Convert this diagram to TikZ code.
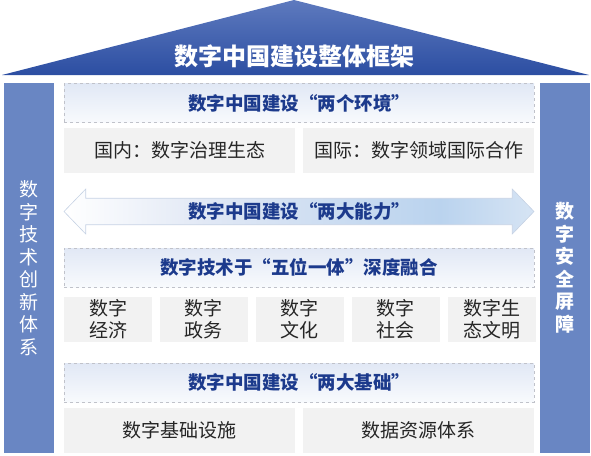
\documentclass[tikz,border=0pt]{standalone}
\usepackage{fontspec}
\setmainfont{Noto Sans CJK SC}
\usepackage{tikz}
\usetikzlibrary{positioning}
\usetikzlibrary{shapes}
\usetikzlibrary{shapes.arrows}

\definecolor{rooftop}{RGB}{94,122,190}
\definecolor{roofbot}{RGB}{44,78,162}
\definecolor{pillarblue}{RGB}{105,134,195}
\definecolor{deepblue}{RGB}{28,58,140}
\definecolor{headtop}{RGB}{225,232,245}
\definecolor{headbot}{RGB}{248,250,253}
\definecolor{dashgray}{RGB}{192,194,202}
\definecolor{cellgray}{RGB}{242,242,242}
\definecolor{arrowblue}{RGB}{186,211,238}
\definecolor{arrowtip}{RGB}{214,228,244}
\definecolor{arrowline}{RGB}{198,210,228}
\definecolor{bodytext}{RGB}{38,38,38}

\pgfdeclarehorizontalshading{arrowshade}{100bp}{color(0bp)=(white); color(25bp)=(white);
    color(40bp)=(headtop); color(65bp)=(arrowblue); color(75bp)=(arrowtip); color(100bp)=(arrowtip)}

\begin{document}
\begin{tikzpicture}[x=1pt, y=-1pt, node distance = 8pt and 8pt,                          % Node placement settings
                        header/.style = {draw=dashgray, dashed, line width=0.6pt, top color=headtop, bottom color=headbot,
                                         minimum width=470, minimum height=39, inner sep=0,
                                         font=\bfseries\fontsize{18.5}{20}\selectfont, text=deepblue}, % Defining header bands
                        cell/.style = {fill=cellgray, minimum height=45, inner sep=0, align=center,
                                       font=\fontsize{19}{22}\selectfont, text=bodytext},              % Defining gray cells
                        pillar/.style = {fill=pillarblue, minimum width=50, minimum height=370, inner sep=0,
                                         align=center, text=white, font=\fontsize{19}{22.5}\selectfont},% Defining side pillars
                        twoarrow/.style = {double arrow, double arrow head extend=6.5, double arrow tip angle=92,
                                           minimum height=470, minimum width=45, inner sep=0,
                                           shading=arrowshade, draw=arrowline, line width=0.6pt,
                                           font=\bfseries\fontsize{18.5}{20}\selectfont, text=deepblue}] % Defining double arrow
        \useasboundingbox (0,0) rectangle (591,455);
        %roof
        \shade[top color=rooftop, bottom color=roofbot] (2,75) -- (294,0) -- (589,75) -- cycle;
        \node[font=\bfseries\fontsize{24}{26}\selectfont, text=white] (title) at (294,56) {数字中国建设整体框架};
        %pillars
        \node[pillar] (tech) at (29,268) {数\\字\\技\\术\\创\\新\\体\\系};
        \node[pillar, font=\bfseries\fontsize{19}{22.5}\selectfont] (safe) at (565,268) {数\\字\\安\\全\\屏\\障};
        %two environments
        \node[header] (env) at (299,103) {数字中国建设“两个环境”};
        \node[cell, minimum width=231] (domestic) at (179.5,150) {国内：数字治理生态};
        \node[cell, minimum width=231] (abroad) [right =of domestic] {国际：数字领域国际合作};
        %two abilities
        \node[twoarrow] (ability) at (299,211.5) {数字中国建设“两大能力”};
        %five in one
        \node[header] (five) at (299,267.5) {数字技术于“五位一体”深度融合};
        \node[cell, minimum width=88] (econ) at (108,319.5) {数字\\经济};
        \node[cell, minimum width=88] (gov) [right =7.5pt of econ] {数字\\政务};
        \node[cell, minimum width=88] (cult) [right =7.5pt of gov] {数字\\文化};
        \node[cell, minimum width=88] (soc) [right =7.5pt of cult] {数字\\社会};
        \node[cell, minimum width=88] (eco) [right =7.5pt of soc] {数字生\\态文明};
        %two foundations
        \node[header] (base) at (299,382.5) {数字中国建设“两大基础”};
        \node[cell, minimum width=231] (infra) at (179.5,430.5) {数字基础设施};
        \node[cell, minimum width=231] (data) [right =of infra] {数据资源体系};
    \end{tikzpicture}
\end{document}
